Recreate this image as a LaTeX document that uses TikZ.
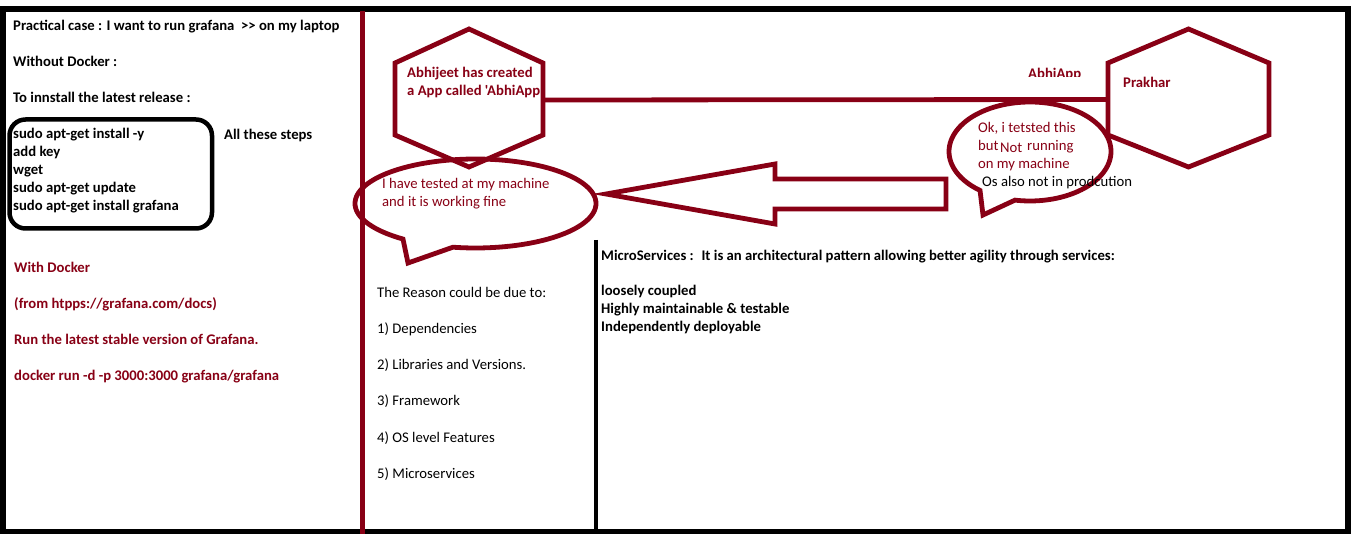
\documentclass[tikz,border=0pt]{standalone}
\usepackage{fontspec}
\setmainfont{Carlito}[Ligatures=TeXOff]
\definecolor{dred}{HTML}{880015}
\begin{document}
\begin{tikzpicture}[x=1pt,y=-1pt,
  txt/.style={anchor=base west, inner sep=0pt, font=\fontsize{14.7}{18}\selectfont},
  btxt/.style={anchor=base west, inner sep=0pt, font=\fontsize{14.7}{18}\selectfont\bfseries},
  rtxt/.style={txt, text=dred},
  rbtxt/.style={btxt, text=dred},
  blk/.style={draw=black, line width=4.5pt},
  rline/.style={draw=dred, line width=4.8pt, line join=miter},
]
\useasboundingbox (0,0) rectangle (1360,534);
\fill[white] (0,0) rectangle (1360,534);

% outer frame and dividers
\draw[blk, line width=5.5pt] (3,9) rectangle (1348,532);
\draw[rline] (362.5,11) -- (362.5,534);
\draw[blk] (596,240) -- (596,530);

% left column
\node[btxt] (t1) at (13,31) {Practical case : I want to run grafana~ >> on my laptop};
\node[btxt] (t2) at (13,67) {Without Docker :};
\node[btxt] (t3) at (13,103) {To innstall the latest release :};
\draw[blk, rounded corners=16pt] (9.5,119.5) rectangle (212,228.5);
\node[btxt] (s1) at (13,139) {sudo apt-get install -y};
\node[btxt] (s2) at (13,157) {add key};
\node[btxt] (s3) at (13,175) {wget};
\node[btxt] (s4) at (13,193) {sudo apt-get update};
\node[btxt] (s5) at (13,211) {sudo apt-get install grafana};
\node[btxt] (all) at (224,140) {All these steps};
\node[rbtxt] (d1) at (14,273) {With Docker};
\node[rbtxt] (d2) at (14,309) {(from htpps://grafana.com/docs)};
\node[rbtxt] (d3) at (14,345) {Run the latest stable version of Grafana.};
\node[rbtxt] (d4) at (14,381) {docker run -d -p 3000:3000 grafana/grafana};

% hexagon 1 (Abhijeet)
\node[rbtxt] (h1a) at (407,78) {Abhijeet has created};
\node[rbtxt] (h1b) at (407,96) {a App called 'AbhiApp'};
\coordinate (h1e) at (543,100);
\draw[rline] (469,29) -- (543,63) -- (543,135) -- (469,167) -- (395,135) -- (395,63) -- cycle;

% hexagon 2 (Prakhar)
\node[rbtxt] (h2a) at (1123,88) {Prakhar};
\coordinate (h2w) at (1108,99.5);
\draw[rline] (1188.5,29) -- (1269,63) -- (1269,135) -- (1188.5,167) -- (1108,135) -- (1108,63) -- cycle;

% connector and its label
\draw[rline] (h1e) -- (h2w);
\begin{scope}
\clip (1020,60) rectangle (1090,77);
\node[rbtxt] (lab) at (1028,78.5) {AbhiApp};
\end{scope}

% speech bubble 1
\draw[rline] plot[domain=127:460.8, samples=120] ({475.5+120.5*cos(\x)},{203.5+44.5*sin(\x)}) -- (408,263) -- cycle;
\node[rtxt] (b1a) at (382,189) {I have tested at my machine};
\node[rtxt] (b1b) at (382,207) {and it is working fine};

% speech bubble 2
\draw[rline] plot[domain=128.1:460.7, samples=120] ({1030+81*cos(\x)},{151.5+49.5*sin(\x)}) -- (983,215) -- cycle;
\node[rtxt] (b2a) at (978,132.5) {Ok, i tetsted this};
\node[rtxt] (b2b) at (978,150.5) {but};
\node[rtxt] (b2c) at (1000,152.5) {Not};
\node[rtxt] (b2d) at (1027,150.5) {running};
\node[rtxt] (b2e) at (978,168.5) {on my machine};
\node[txt] (b2f) at (982,186.5) {Os also not in prodcution};

% big arrow
\draw[rline] (606,194) -- (775,164) -- (775,179) -- (946,179) -- (946,209) -- (775,209) -- (775,224) -- cycle;

% reasons
\node[txt] (r0) at (377,298) {The Reason could be due to:};
\node[txt] (r1) at (377,334) {1) Dependencies};
\node[txt] (r2) at (377,370) {2) Libraries and Versions.};
\node[txt] (r3) at (377,406) {3) Framework};
\node[txt] (r4) at (377,442) {4) OS level Features};
\node[txt] (r5) at (377,478) {5) Microservices};

% microservices
\node[btxt] (m0) at (601,260.5) {MicroServices :~ It is an architectural pattern allowing better agility through services:};
\node[btxt] (m1) at (601,296) {loosely coupled};
\node[btxt] (m2) at (601,314) {Highly maintainable \& testable};
\node[btxt] (m3) at (601,332) {Independently deployable};
\end{tikzpicture}
\end{document}
